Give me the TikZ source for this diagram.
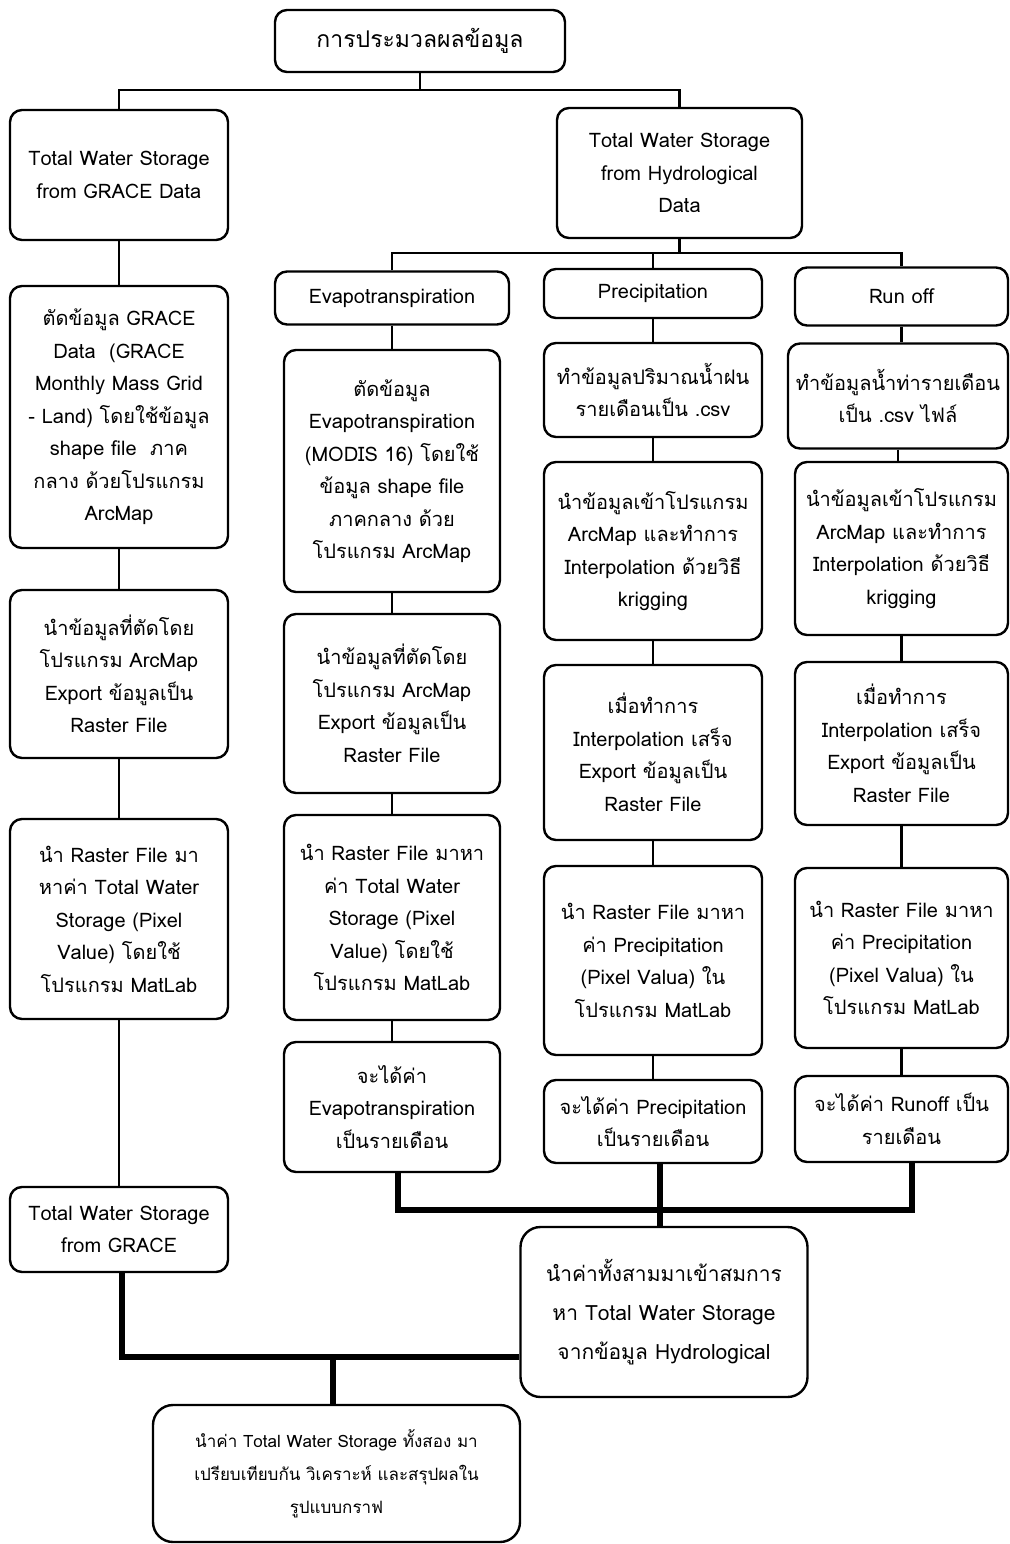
\documentclass[tikz,border=0pt]{standalone}
\usepackage{fontspec}
\setmainfont{Loma}[Script=Thai]
\usetikzlibrary{positioning}

\begin{document}
\begin{tikzpicture}[x=1pt, y=-1pt,
  font=\fontsize{20}{32.5}\selectfont,
  box/.style 2 args={draw, line width=2.4pt, rounded corners=12pt, align=center,
                     inner sep=2pt, minimum width=#1, minimum height=#2},
  link/.style={line width=2.2pt},
  bus/.style={line width=5.5pt}
]
  \useasboundingbox (0,0) rectangle (1009,1544);
  % หัวข้อ
  \node[box={290pt}{62pt}, font=\fontsize{23}{30}\selectfont] (top) at (420,41) {การประมวลผลข้อมูล};
  % GRACE
  \node[box={218pt}{130pt}] (g1) at (119,175) {Total Water Storage\\from GRACE Data};
  \node[box={218pt}{262pt}] (g2) at (119,417) {ตัดข้อมูล GRACE\\Data~~(GRACE\\Monthly Mass Grid\\- Land) โดยใช้ข้อมูล\\shape file~~ภาค\\กลาง ด้วยโปรแกรม\\ArcMap};
  \node[box={218pt}{168pt}] (g3) at (119,674) {นำข้อมูลที่ตัดโดย\\โปรแกรม ArcMap\\Export ข้อมูลเป็น\\Raster File};
  \node[box={218pt}{200pt}] (g4) at (119,919) {นำ Raster File มา\\หาค่า Total Water\\Storage (Pixel\\Value) โดยใช้\\โปรแกรม MatLab};
  \node[box={218pt}{85pt}]  (g5) at (119,1229.5) {Total Water Storage\\from GRACE};
  % Hydrological
  \node[box={245pt}{130pt}] (hyd) at (679.5,173) {Total Water Storage\\from Hydrological\\Data};
  % Evapotranspiration
  \node[box={234pt}{53pt}]  (eh) at (392,298) {Evapotranspiration};
  \node[box={216pt}{242pt}] (e1) at (392,471) {ตัดข้อมูล\\Evapotranspiration\\(MODIS 16) โดยใช้\\ข้อมูล shape file\\ภาคกลาง ด้วย\\โปรแกรม ArcMap};
  \node[box={216pt}{179pt}] (e2) at (392,703.5) {นำข้อมูลที่ตัดโดย\\โปรแกรม ArcMap\\Export ข้อมูลเป็น\\Raster File};
  \node[box={216pt}{205pt}] (e3) at (392,917.5) {นำ Raster File มาหา\\ค่า Total Water\\Storage (Pixel\\Value) โดยใช้\\โปรแกรม MatLab};
  \node[box={216pt}{130pt}] (e4) at (392,1107) {จะได้ค่า\\Evapotranspiration\\เป็นรายเดือน};
  % Precipitation
  \node[box={218pt}{49pt}]  (ph) at (653,293.5) {Precipitation};
  \node[box={218pt}{94pt}]  (p1) at (653,390) {ทำข้อมูลปริมาณน้ำฝน\\รายเดือนเป็น .csv};
  \node[box={218pt}{178pt}] (p2) at (653,551) {นำข้อมูลเข้าโปรแกรม\\ArcMap และทำการ\\Interpolation ด้วยวิธี\\krigging};
  \node[box={218pt}{175pt}] (p3) at (653,752.5) {เมื่อทำการ\\Interpolation เสร็จ\\Export ข้อมูลเป็น\\Raster File};
  \node[box={218pt}{189pt}] (p4) at (653,960.5) {นำ Raster File มาหา\\ค่า Precipitation\\(Pixel Valua) ใน\\โปรแกรม MatLab};
  \node[box={218pt}{83pt}]  (p5) at (653,1121.5) {จะได้ค่า Precipitation\\เป็นรายเดือน};
  % Run off
  \node[box={213pt}{58pt}]  (rh) at (901.5,296.5) {Run off};
  \node[box={220pt}{105pt}] (r1) at (898,396) {ทำข้อมูลน้ำท่ารายเดือน\\เป็น .csv ไฟล์};
  \node[box={213pt}{173pt}] (r2) at (901.5,548.5) {นำข้อมูลเข้าโปรแกรม\\ArcMap และทำการ\\Interpolation ด้วยวิธี\\krigging};
  \node[box={213pt}{163pt}] (r3) at (901.5,743.5) {เมื่อทำการ\\Interpolation เสร็จ\\Export ข้อมูลเป็น\\Raster File};
  \node[box={213pt}{180pt}] (r4) at (901.5,958) {นำ Raster File มาหา\\ค่า Precipitation\\(Pixel Valua) ใน\\โปรแกรม MatLab};
  \node[box={213pt}{86pt}]  (r5) at (901.5,1119) {จะได้ค่า Runoff เป็น\\รายเดือน};
  % สมการ และ สรุปผล
  \node[box={287pt}{170pt}, font=\fontsize{21}{39}\selectfont, rounded corners=20pt] (heq) at (664,1312)
       {นำค่าทั้งสามมาเข้าสมการ\\หา Total Water Storage\\จากข้อมูล Hydrological};
  \node[box={367pt}{137pt}, font=\fontsize{17}{33}\selectfont, rounded corners=20pt] (fin) at (336.5,1473.5)
       {นำค่า Total Water Storage ทั้งสอง มา\\เปรียบเทียบกัน วิเคราะห์ และสรุปผลใน\\รูปแบบกราฟ};
  % จุดต่อ
  \coordinate (j1) at (420,90);
  \coordinate (j2) at (679.5,253);
  \coordinate (j3) at (660,1210);
  \coordinate (j4) at (333,1357);
  % เส้นเชื่อม
  \draw[link] (top.south) -- (j1);
  \draw[link] (g1.north) |- (j1) -| (hyd.north);
  \draw[link] (hyd.south) -- (j2);
  \draw[link] (eh.north) |- (j2) -| (rh.north);
  \draw[link] (j2) -| (ph.north);
  \foreach \a/\b in {g1/g2, g2/g3, g3/g4, g4/g5, eh/e1, e1/e2, e2/e3, e3/e4,
                     ph/p1, p1/p2, p2/p3, p3/p4, p4/p5, rh/r1, r1/r2, r2/r3, r3/r4, r4/r5}
    \draw[link] (\a.south) -- (\a.south |- \b.north);
  % เส้นหนา
  \draw[bus] ([xshift=6pt]e4.south) |- (j3) -| ([xshift=10.5pt]r5.south);
  \draw[bus] ([xshift=7pt]p5.south) -- ([xshift=7pt]p5.south |- heq.north);
  \draw[bus] ([xshift=3pt]g5.south) |- (heq.west |- j4);
  \draw[bus] (j4) -- (j4 |- fin.north);
\end{tikzpicture}
\end{document}
